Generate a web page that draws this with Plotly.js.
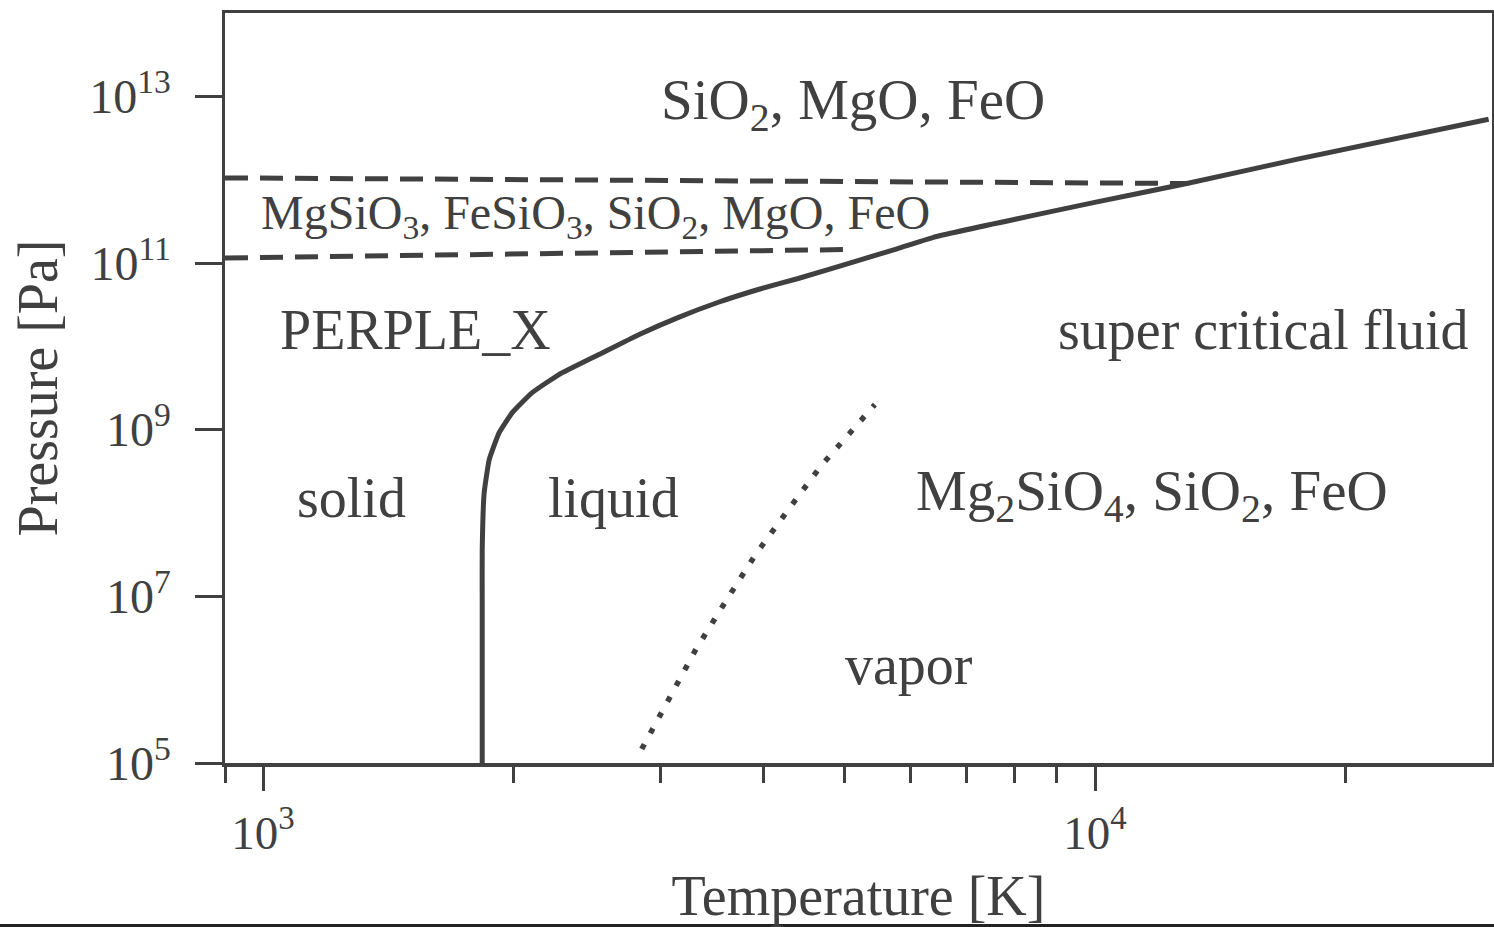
<!DOCTYPE html>
<html>
<head>
<meta charset="utf-8">
<script src="https://cdn.plot.ly/plotly-3.0.1.min.js"></script>
<style>html,body{margin:0;padding:0;background:#fff;}#chart{width:1494px;height:927px;}</style>
</head>
<body>
<div id="chart"></div>
<script>
// Phase boundary (melting / critical curve): temperature [K], pressure [Pa]
var meltT = [1834, 1834, 1834, 1844, 1870, 1922, 1993, 2106, 2268, 2533, 2828, 3158, 3526, 3937, 4397, 5188, 5793, 6380, 10055, 12893, 17458, 29720];
var meltP = [1e5, 9.1e6, 3.6e7, 1.75e8, 4.37e8, 9.2e8, 1.6e9, 2.78e9, 4.58e9, 7.96e9, 1.38e10, 2.23e10, 3.38e10, 4.81e10, 6.52e10, 1.07e11, 1.49e11, 2.02e11, 5.41e11, 9.0e11, 1.75e12, 5.3e12];

// Vapor boundary (dotted)
var vaporT = [2852, 3072, 3310, 3595, 3906, 4277, 4686, 5437];
var vaporP = [1.47e5, 5.7e5, 2.27e6, 8.6e6, 3.15e7, 1.09e8, 3.7e8, 2.0e9];

// PERPLE_X upper / lower limits (dashed)
var upperT = [900, 12893];
var upperP = [1.05e12, 9.0e11];
var lowerT = [900, 5019];
var lowerP = [1.15e11, 1.45e11];

// Region labels
var labelText = [
  'SiO<sub>2</sub>, MgO, FeO',
  'MgSiO<sub>3</sub>, FeSiO<sub>3</sub>, SiO<sub>2</sub>, MgO, FeO',
  'PERPLE_X',
  'solid',
  'liquid',
  'super critical fluid',
  'Mg<sub>2</sub>SiO<sub>4</sub>, SiO<sub>2</sub>, FeO',
  'vapor'
];
var labelT = [5117, 2512, 1525, 1278, 2640, 15940, 11700, 5970];
var labelP = [8.2e12, 3.7e11, 1.55e10, 1.5e8, 1.5e8, 1.55e10, 1.66e8, 1.5e6];
var labelSize = [57, 48, 56, 56, 56, 56, 57, 56];

// Axis ticks
var xMajor = [1000, 10000];
var xMajorText = ['10<sup>3</sup>', '10<sup>4</sup>'];
var xMinor = [900, 2000, 3000, 4000, 5000, 6000, 7000, 8000, 9000, 20000];
var yMajor = [1e5, 1e7, 1e9, 1e11, 1e13];
var yMajorText = ['10<sup>5</sup>', '10<sup>7</sup>', '10<sup>9</sup>', '10<sup>11</sup>', '10<sup>13</sup>'];

var ink = '#404040';
var fontFam = '"Liberation Serif", "Times New Roman", serif';

var traces = [
  {x: meltT, y: meltP, mode: 'lines', line: {color: ink, width: 5, shape: 'spline', smoothing: 0.4}, hoverinfo: 'skip'},
  {x: vaporT, y: vaporP, mode: 'lines', line: {color: ink, width: 5.5, dash: '5.5px,12.5px'}, hoverinfo: 'skip'},
  {x: upperT, y: upperP, mode: 'lines', line: {color: ink, width: 5, dash: '23px,12px'}, hoverinfo: 'skip'},
  {x: lowerT, y: lowerP, mode: 'lines', line: {color: ink, width: 5, dash: '23px,12px'}, hoverinfo: 'skip'}
];

var annotations = labelText.map(function (t, i) {
  return {
    text: t, x: Math.log10(labelT[i]), y: Math.log10(labelP[i]),
    xref: 'x', yref: 'y', showarrow: false, xanchor: 'center', yanchor: 'middle',
    font: {family: fontFam, size: labelSize[i], color: ink}
  };
});

var layout = {
  width: 1494, height: 927,
  margin: {l: 225, r: 2, t: 13, b: 164},
  paper_bgcolor: '#ffffff', plot_bgcolor: '#ffffff',
  showlegend: false,
  font: {family: fontFam, color: ink},
  xaxis: {
    type: 'log', range: [Math.log10(900), Math.log10(30000)],
    showgrid: false, zeroline: false,
    showline: true, mirror: true, linecolor: ink, linewidth: 3.5,
    ticks: 'outside', ticklen: 24, tickwidth: 3, tickcolor: ink,
    tickmode: 'array', tickvals: xMajor, ticktext: xMajorText,
    tickfont: {family: fontFam, size: 47, color: ink},
    ticklabelstandoff: 2,
    minor: {tickmode: 'array', tickvals: xMinor, ticks: 'outside', ticklen: 16, tickwidth: 3, tickcolor: ink, showgrid: false},
    title: {text: 'Temperature [K]', font: {family: fontFam, size: 56, color: ink}, standoff: 24},
    automargin: false
  },
  yaxis: {
    type: 'log', range: [5, 14],
    showgrid: false, zeroline: false,
    showline: true, mirror: true, linecolor: ink, linewidth: 3.5,
    ticks: 'outside', ticklen: 27, tickwidth: 3, tickcolor: ink,
    tickmode: 'array', tickvals: yMajor, ticktext: yMajorText,
    tickfont: {family: fontFam, size: 48, color: ink},
    ticklabelstandoff: 14,
    title: {text: 'Pressure [Pa]', font: {family: fontFam, size: 56, color: ink}, standoff: 14},
    automargin: false
  },
  annotations: annotations,
  shapes: [
    {type: 'rect', xref: 'paper', yref: 'paper', x0: -0.2, x1: 1.01, y0: -0.2187, y1: -0.2147,
     fillcolor: '#222222', line: {width: 0}, layer: 'above'}
  ]
};

Plotly.newPlot('chart', traces, layout, {staticPlot: true, displayModeBar: false});
</script>
</body>
</html>
